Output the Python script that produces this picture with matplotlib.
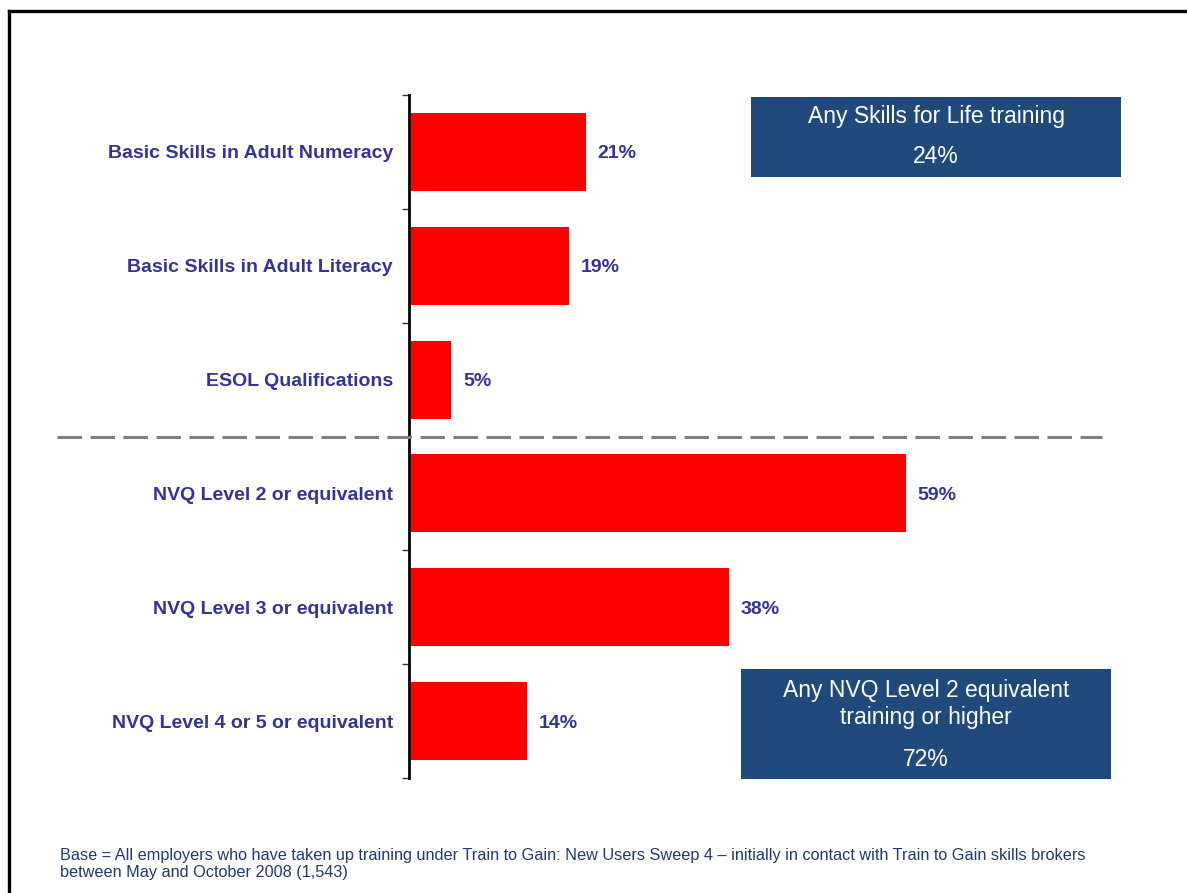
import numpy as np
import matplotlib
matplotlib.use("Agg")
import matplotlib.pyplot as plt
from matplotlib.lines import Line2D
from matplotlib.patches import Rectangle

# Data
categories = [
    "Basic Skills in Adult Numeracy",
    "Basic Skills in Adult Literacy",
    "ESOL Qualifications",
    "NVQ Level 2 or equivalent",
    "NVQ Level 3 or equivalent",
    "NVQ Level 4 or 5 or equivalent",
]
values = [21, 19, 5, 59, 38, 14]
box_titles = ["Any Skills for Life training",
              "Any NVQ Level 2 equivalent\ntraining or higher"]
box_values = ["24%", "72%"]
footnote = ("Base = All employers who have taken up training under Train to Gain: New Users Sweep 4 \u2013 "
            "initially in contact with Train to Gain skills brokers\nbetween May and October 2008 (1,543)")

plt.rcParams['font.family'] = ['Liberation Sans', 'DejaVu Sans']

W, H = 1187, 893
fig = plt.figure(figsize=(W / 100, H / 100), dpi=100)

def fx(px):
    return px / W

def fy(py):
    return 1 - py / H

label_color = '#333399'
box_color = '#214A7C'

# axes placed so that x=0 sits on the axis line
ax = fig.add_axes([fx(409), fy(778), fx(1083) - fx(409), fy(95) - fy(778)])
y = np.arange(len(categories))
ax.barh(y, values, height=0.685, color='#FF0000', zorder=2)
ax.set_xlim(0, 80)
ax.set_ylim(len(categories) - 0.5, -0.5)

for spine in ['top', 'right', 'bottom']:
    ax.spines[spine].set_visible(False)
ax.spines['left'].set_linewidth(2)
ax.spines['left'].set_color('black')
ax.set_xticks([])

ax.set_yticks(y)
ax.set_yticklabels(categories, fontsize=14, fontweight='bold', color=label_color,
                   va='center_baseline')
ax.tick_params(axis='y', which='major', length=0, pad=11.5)
ax.set_yticks(np.arange(-0.5, len(categories)), minor=True)
ax.tick_params(axis='y', which='minor', length=5, width=1, color='#333333')

for yi, v in zip(y, values):
    ax.text(v + 1.4, yi, f"{v}%", va='center_baseline', ha='left', fontsize=14,
            fontweight='bold', color=label_color)

# summary boxes
fig.add_artist(Rectangle((fx(751), fy(177)), fx(1121) - fx(751), fy(97) - fy(177),
                         transform=fig.transFigure, facecolor=box_color, edgecolor='none'))
fig.text(fx(936), fy(117), box_titles[0], ha='center', va='center', color='white',
         fontsize=16.5)
fig.text(fx(936), fy(157), box_values[0], ha='center', va='center', color='white',
         fontsize=16.5)
fig.add_artist(Rectangle((fx(741), fy(779)), fx(1111) - fx(741), fy(669) - fy(779),
                         transform=fig.transFigure, facecolor=box_color, edgecolor='none'))
fig.text(fx(926), fy(704), box_titles[1], ha='center', va='center', color='white',
         fontsize=16.5, linespacing=1.2)
fig.text(fx(926), fy(759), box_values[1], ha='center', va='center', color='white',
         fontsize=16.5)

# dashed divider between the two groups
fig.add_artist(Line2D([fx(57), fx(1102)], [fy(437), fy(437)], transform=fig.transFigure,
                      color='#808080', linewidth=2.2, linestyle=(0, (8, 2.8)), zorder=5))

# frame lines (top and left)
fig.add_artist(Line2D([fx(9), fx(W)], [fy(11), fy(11)], transform=fig.transFigure,
                      color='black', linewidth=2.4))
fig.add_artist(Line2D([fx(9.5), fx(9.5)], [fy(11), 0], transform=fig.transFigure,
                      color='black', linewidth=2.4))

fig.text(fx(60), fy(864), footnote, ha='left', va='center', fontsize=11.7,
         color='#1F3A6E', linespacing=1.15)

fig.savefig('out.png', dpi=100)
